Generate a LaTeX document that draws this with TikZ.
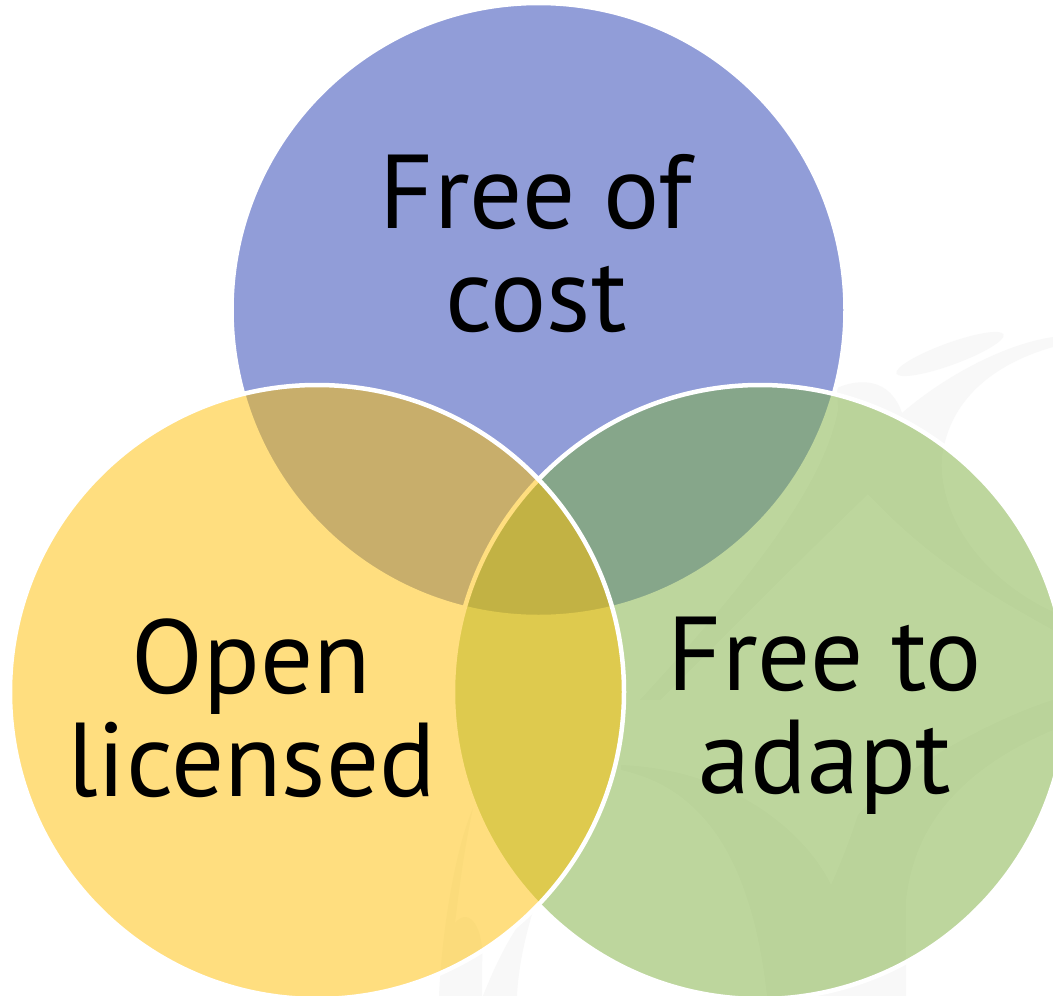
\documentclass[tikz,border=0pt]{standalone}
\usepackage{fontspec}
\setmainfont{PT Sans}
\definecolor{cblue}{HTML}{253DB3}
\definecolor{cyellow}{HTML}{FFBF00}
\definecolor{cgreen}{HTML}{7DAF3D}
\definecolor{wmark}{HTML}{F8F8F8}
\tikzset{
  venn/.style={circle,minimum size=614pt,inner sep=0pt,outer sep=0pt,draw=white,line width=4.5pt,fill opacity=.5},
  lab/.style={align=center,font=\fontsize{105}{103}\selectfont,text=black,inner sep=0pt},
  wm/.style={fill=wmark,draw=none}
}
\begin{document}
\begin{tikzpicture}[x=1pt,y=-1pt]
\useasboundingbox (0,0) rectangle (1053,996);
\clip (0,0) rectangle (1053,996);
\fill[white] (0,0) rectangle (1053,996);
% faint watermark
\fill[wm,rotate around={20:(950,354)}] (950,354) ellipse (57 and 11);
\fill[wm] (837,388) .. controls (860,378) and (890,378) .. (902,413) .. controls (940,380) and (1000,345) .. (1053,337) -- (1053,347) .. controls (1000,362) and (950,395) .. (942,457) .. controls (938,510) and (975,575) .. (1053,612) -- (1053,630) .. controls (990,595) and (930,560) .. (868,494) .. controls (810,550) and (730,630) .. (660,700) -- (640,700) .. controls (760,570) and (825,480) .. (838,410) -- cycle;
\fill[wm] (621,770) .. controls (690,785) and (750,840) .. (767,996) -- (906,996) -- (906,900) .. controls (912,850) and (935,780) .. (1053,730) -- (1053,700) .. controls (990,720) and (900,770) .. (858,815) .. controls (850,840) and (840,865) .. (831,885) .. controls (810,840) and (740,770) .. (621,765) -- cycle;
\fill[wm] (439,996) .. controls (442,930) and (455,850) .. (473,808) .. controls (462,860) and (458,900) .. (455,923) .. controls (470,905) and (485,930) .. (482,965) -- (482,996) -- cycle;
\fill[wm] (483,996) .. controls (497,960) and (515,925) .. (535,905) .. controls (525,935) and (518,970) .. (517,996) -- cycle;
% circles
\node[venn,fill=cblue] (top) at (538.5,310) {};
\node[venn,fill=cgreen] (right) at (760,692) {};
\node[venn,fill=cyellow] (left) at (317,692) {};
% labels
\node[lab] (t1) at (536,244) {Free of\\cost};
\node[lab] (t2) at (251.5,708) {Open\\licensed};
\node[lab] (t3) at (825,716) {Free to\\adapt};
\end{tikzpicture}
\end{document}
